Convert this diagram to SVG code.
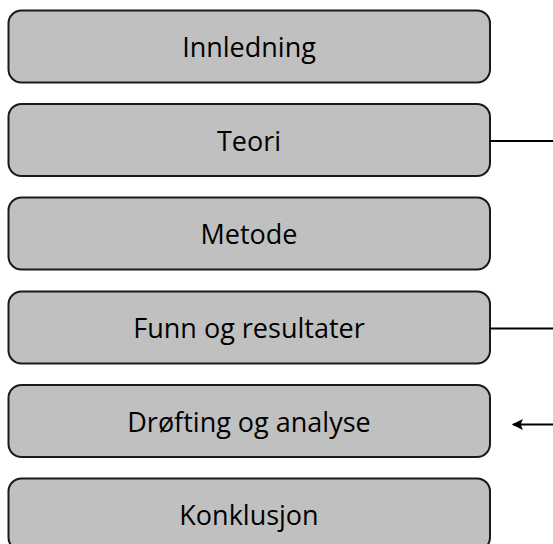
<svg xmlns="http://www.w3.org/2000/svg" width="553" height="544" viewBox="0 0 553 544">
  <defs>
    <style>
      .box rect { fill: #c0c0c0; stroke: #1a1a1a; stroke-width: 2; }
      .box text { font-family: "Open Sans", "Noto Sans", sans-serif; font-size: 27px; fill: #000; text-anchor: middle; }
      .link { stroke: #000; stroke-width: 2; fill: none; }
    </style>
    <marker id="arrowhead" viewBox="0 0 10 10" refX="9" refY="5" markerWidth="7" markerHeight="5.5" markerUnits="strokeWidth" orient="auto">
      <path d="M0,0 L10,5 L0,10 L2,5 z" fill="#000"/>
    </marker>
  </defs>

  <rect width="553" height="544" fill="#ffffff"/>

  <g id="innledning" class="box">
    <rect x="8.5" y="10.5" width="481.5" height="72" rx="13" ry="13"/>
    <text x="249" y="57">Innledning</text>
  </g>
  <g id="teori" class="box">
    <rect x="8.5" y="104" width="481.5" height="72" rx="13" ry="13"/>
    <text x="249" y="150.5">Teori</text>
  </g>
  <g id="metode" class="box">
    <rect x="8.5" y="197.5" width="481.5" height="72" rx="13" ry="13"/>
    <text x="249" y="244">Metode</text>
  </g>
  <g id="funn" class="box">
    <rect x="8.5" y="291.5" width="481.5" height="72" rx="13" ry="13"/>
    <text x="249" y="338">Funn og resultater</text>
  </g>
  <g id="drofting" class="box">
    <rect x="8.5" y="385" width="481.5" height="72" rx="13" ry="13"/>
    <text x="249" y="431.5">Drøfting og analyse</text>
  </g>
  <g id="konklusjon" class="box">
    <rect x="8.5" y="478.5" width="481.5" height="72" rx="13" ry="13"/>
    <text x="249" y="525">Konklusjon</text>
  </g>

  <g id="connectors">
    <line class="link" x1="490" y1="141" x2="553" y2="141"/>
    <line class="link" x1="490" y1="328.5" x2="553" y2="328.5"/>
    <line class="link" x1="553" y1="424.5" x2="513" y2="424.5" marker-end="url(#arrowhead)"/>
  </g>
</svg>
